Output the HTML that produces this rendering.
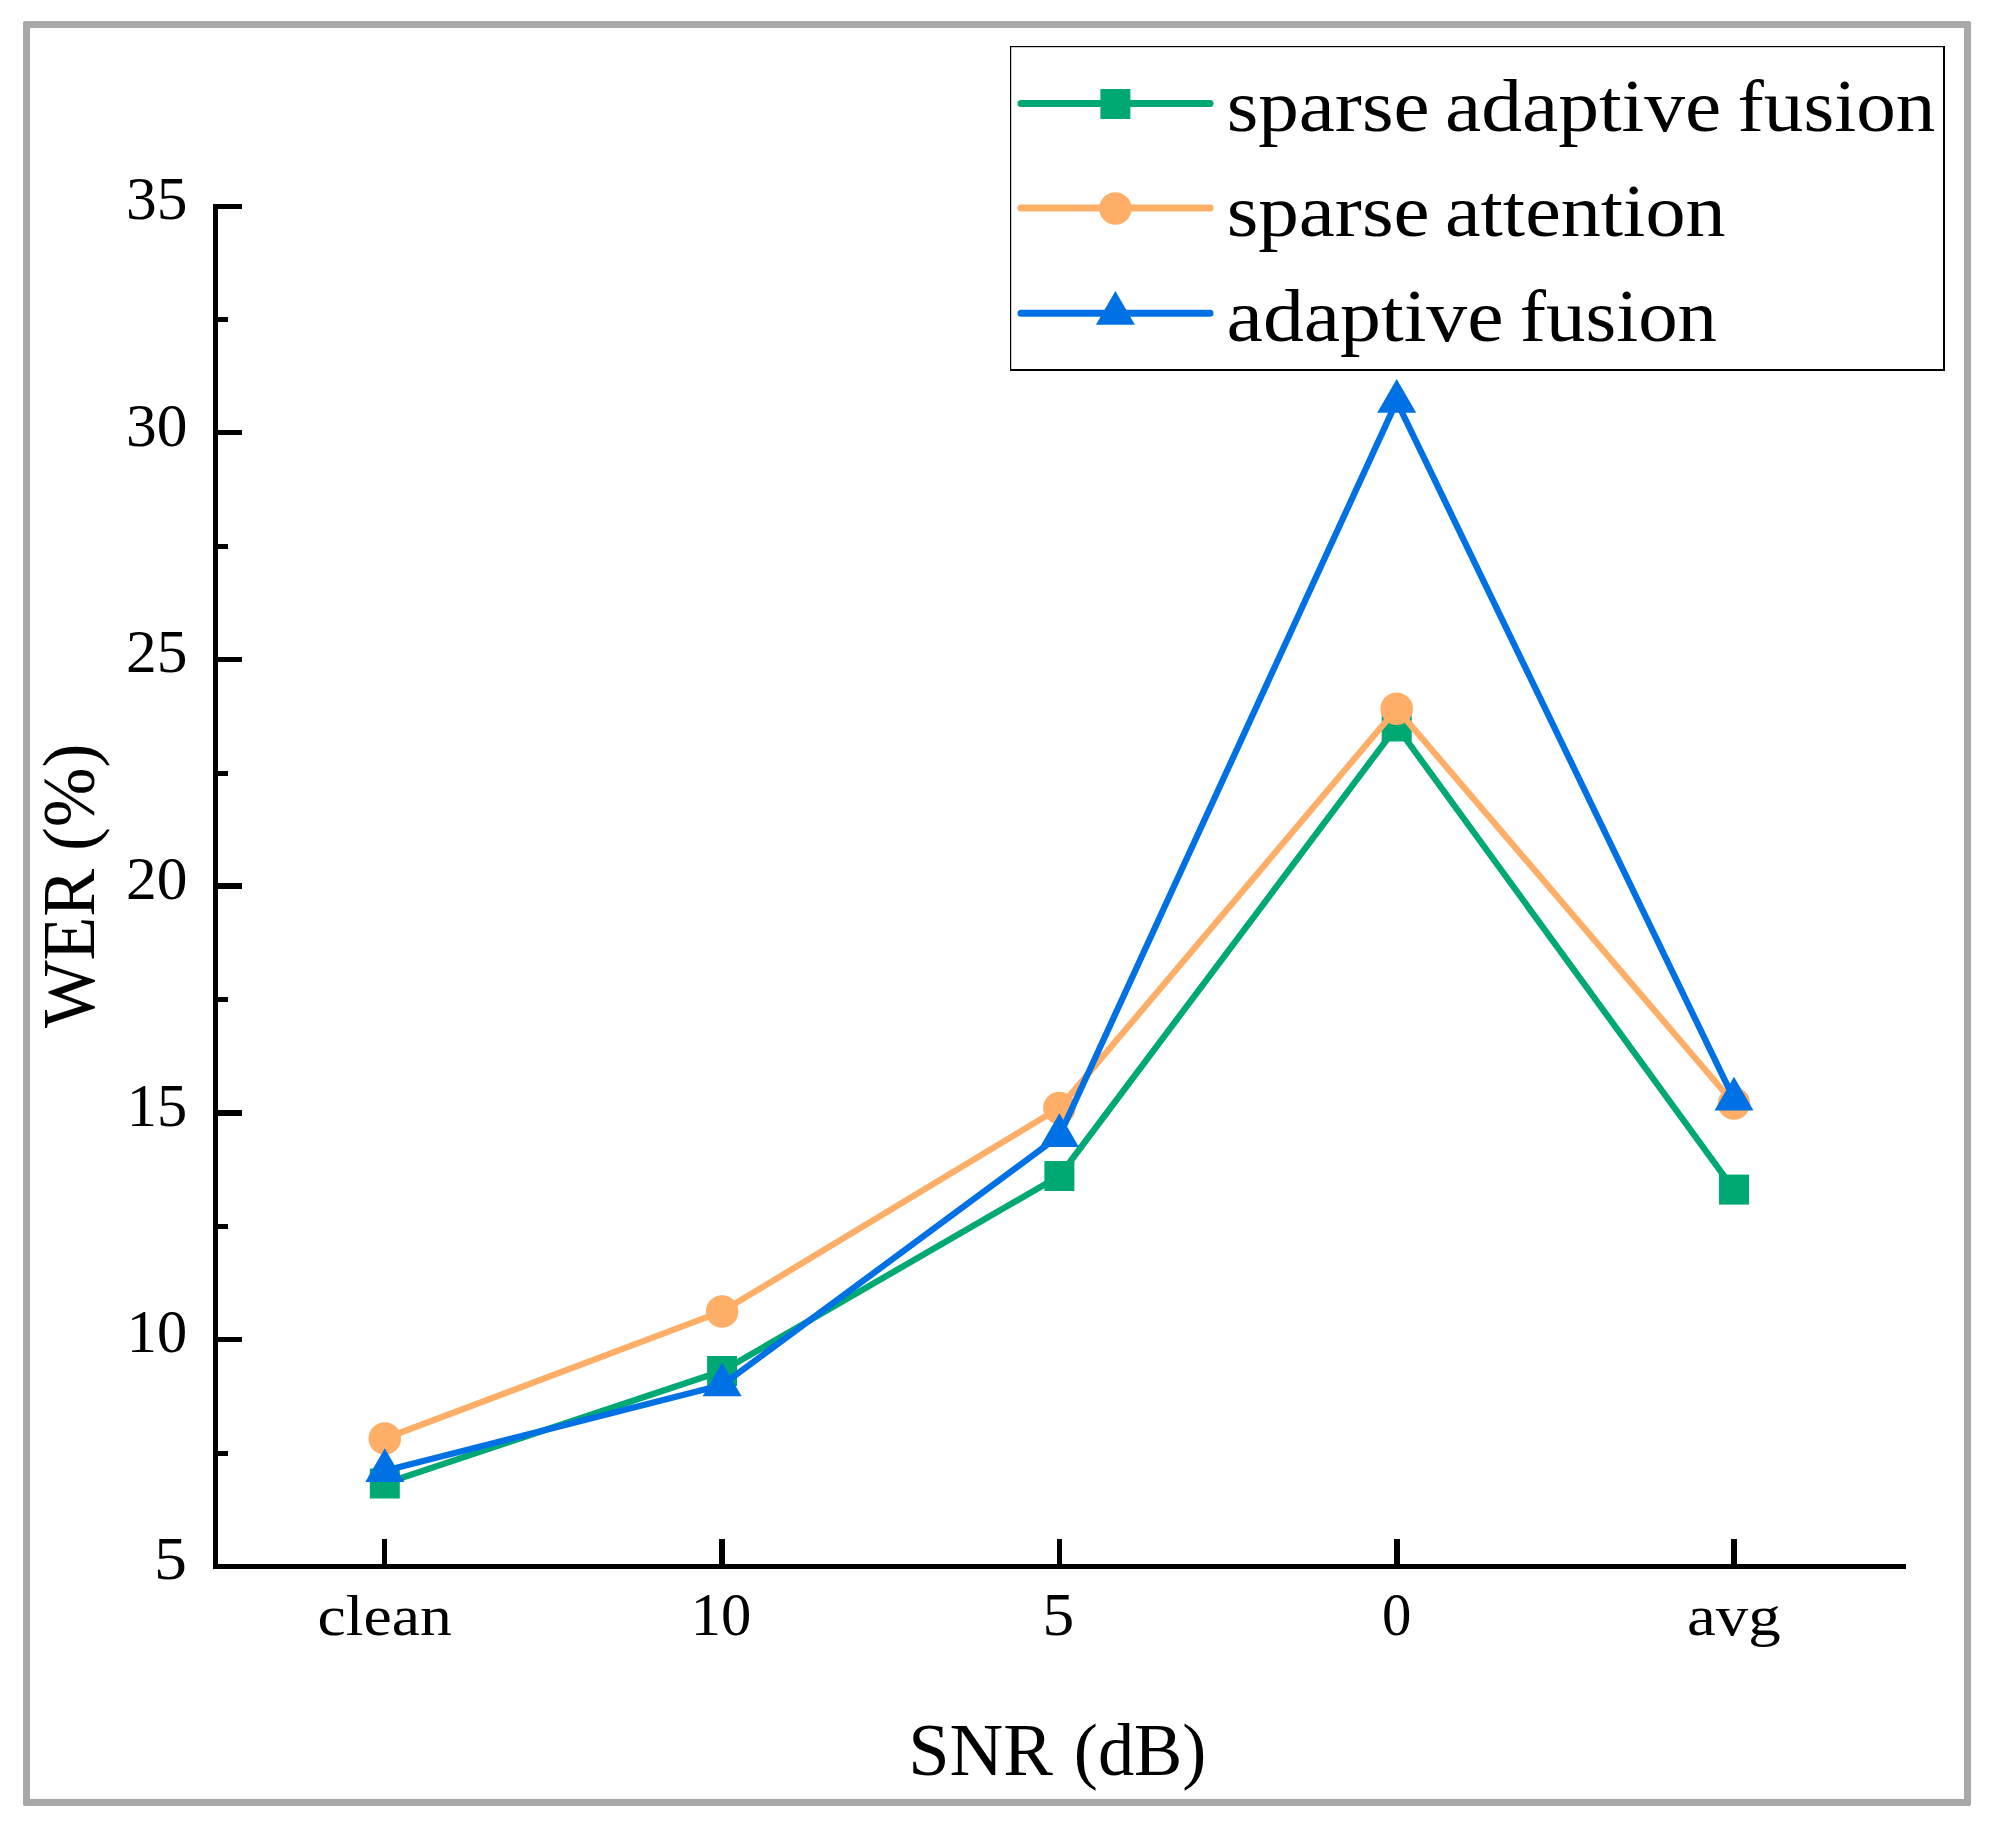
<!DOCTYPE html>
<html lang="en">
<head>
<meta charset="utf-8">
<title>WER vs SNR</title>
<style>
html,body{margin:0;padding:0;background:#fff;}
body{width:1997px;height:1830px;overflow:hidden;}
svg{display:block;}
text{font-family:"Liberation Serif", serif;fill:#000;}
</style>
</head>
<body>
<svg width="1997" height="1830" viewBox="0 0 1997 1830">
<rect x="0" y="0" width="1997" height="1830" fill="#fff"/>
<path fill="#A8A8A8" fill-rule="evenodd" d="M25 21 H1969 A2 2 0 0 1 1971 23 V1804 A2 2 0 0 1 1969 1806 H25 A2 2 0 0 1 23 1804 V23 A2 2 0 0 1 25 21 Z M30 28 V1799 H1964 V28 Z"/>
<g stroke="#000" stroke-width="5" fill="none" stroke-linecap="butt">
<path d="M215.5 204 V1569"/>
<path d="M213 1566.5 H1906"/>
</g>
<g fill="#000">
<rect x="217" y="204" width="25" height="5"/>
<rect x="217" y="430" width="25" height="5"/>
<rect x="217" y="657" width="25" height="5"/>
<rect x="217" y="883" width="25" height="6"/>
<rect x="217" y="1110" width="25" height="6"/>
<rect x="217" y="1337" width="25" height="5"/>
<rect x="217" y="1451" width="11" height="5"/>
<rect x="217" y="1224" width="11" height="5"/>
<rect x="217" y="997" width="11" height="5"/>
<rect x="217" y="771" width="11" height="5"/>
<rect x="217" y="544" width="11" height="5"/>
<rect x="217" y="317" width="11" height="5"/>
<rect x="382" y="1539" width="5" height="26"/>
<rect x="719" y="1539" width="6" height="26"/>
<rect x="1057" y="1539" width="5" height="26"/>
<rect x="1394" y="1539" width="6" height="26"/>
<rect x="1731" y="1539" width="6" height="26"/>
</g>
<polyline points="384.8,1483.5 722.1,1371.0 1059.4,1176.0 1396.7,726.5 1734.0,1189.6" fill="none" stroke="#00A873" stroke-width="6.3" stroke-linejoin="round" stroke-linecap="round"/>
<rect x="369.8" y="1468.5" width="30" height="30" fill="#00A873"/>
<rect x="707.1" y="1356.0" width="30" height="30" fill="#00A873"/>
<rect x="1044.4" y="1161.0" width="30" height="30" fill="#00A873"/>
<rect x="1381.7" y="711.5" width="30" height="30" fill="#00A873"/>
<rect x="1719.0" y="1174.6" width="30" height="30" fill="#00A873"/>
<polyline points="384.8,1438.5 722.1,1311.4 1059.4,1107.9 1396.7,708.7 1734.0,1103.5" fill="none" stroke="#FFAE68" stroke-width="6.3" stroke-linejoin="round" stroke-linecap="round"/>
<circle cx="384.8" cy="1438.5" r="16.25" fill="#FFAE68"/>
<circle cx="722.1" cy="1311.4" r="16.25" fill="#FFAE68"/>
<circle cx="1059.4" cy="1107.9" r="16.25" fill="#FFAE68"/>
<circle cx="1396.7" cy="708.7" r="16.25" fill="#FFAE68"/>
<circle cx="1734.0" cy="1103.5" r="16.25" fill="#FFAE68"/>
<polyline points="384.8,1470.8 722.1,1385.0 1059.4,1135.8 1396.7,401.4 1734.0,1099.2" fill="none" stroke="#0071E4" stroke-width="6.3" stroke-linejoin="round" stroke-linecap="round"/>
<polygon points="384.8,1448.3 404.3,1482.1 365.3,1482.1" fill="#0071E4"/>
<polygon points="722.1,1362.5 741.6,1396.3 702.6,1396.3" fill="#0071E4"/>
<polygon points="1059.4,1113.3 1078.9,1147.1 1039.9,1147.1" fill="#0071E4"/>
<polygon points="1396.7,378.9 1416.2,412.7 1377.2,412.7" fill="#0071E4"/>
<polygon points="1734.0,1076.7 1753.5,1110.5 1714.5,1110.5" fill="#0071E4"/>
<rect x="1010" y="46" width="935" height="325" fill="#fff"/>
<g fill="#000"><rect x="1010" y="46" width="935" height="1.2"/><rect x="1010" y="46" width="1.2" height="325"/><rect x="1943" y="46" width="2" height="325"/><rect x="1010" y="369" width="935" height="2"/></g>
<path d="M1021 103.5 H1210" stroke="#00A873" stroke-width="7" stroke-linecap="round" fill="none"/>
<rect x="1100.4" y="89.0" width="30" height="30" fill="#00A873"/>
<path d="M1021 208.0 H1210" stroke="#FFAE68" stroke-width="7" stroke-linecap="round" fill="none"/>
<circle cx="1115.4" cy="208.5" r="16.25" fill="#FFAE68"/>
<path d="M1021 313.2 H1210" stroke="#0071E4" stroke-width="7" stroke-linecap="round" fill="none"/>
<polygon points="1115.4,291.0 1134.9,324.8 1095.9,324.8" fill="#0071E4"/>
<text transform="translate(153.94 1579.10) scale(1.0640 1)" font-size="62">5</text>
<text transform="translate(126.83 1352.43) scale(0.9745 1)" font-size="62">10</text>
<text transform="translate(126.83 1125.77) scale(0.9745 1)" font-size="62">15</text>
<text transform="translate(125.93 899.10) scale(0.9912 1)" font-size="62">20</text>
<text transform="translate(125.93 672.43) scale(0.9912 1)" font-size="62">25</text>
<text transform="translate(125.93 445.77) scale(0.9912 1)" font-size="62">30</text>
<text transform="translate(125.93 219.10) scale(0.9912 1)" font-size="62">35</text>
<text transform="translate(317.60 1634.50) scale(1.0983 1)" font-size="58">clean</text>
<text transform="translate(690.71 1635.30) scale(0.9782 1)" font-size="62">10</text>
<text transform="translate(1042.50 1635.30) scale(1.0240 1)" font-size="62">5</text>
<text transform="translate(1381.90 1635.30) scale(0.9481 1)" font-size="62">0</text>
<text transform="translate(1687.06 1634.90) scale(1.1185 1)" font-size="58">avg</text>
<text y="130.7" font-size="73"><tspan x="1226.66" textLength="202.85" lengthAdjust="spacingAndGlyphs">sparse</tspan> <tspan x="1444.95" textLength="276.30" lengthAdjust="spacingAndGlyphs">adaptive</tspan> <tspan x="1737.53" textLength="197.69" lengthAdjust="spacingAndGlyphs">fusion</tspan></text>
<text y="235.8" font-size="73"><tspan x="1226.66" textLength="202.85" lengthAdjust="spacingAndGlyphs">sparse</tspan> <tspan x="1445.00" textLength="280.57" lengthAdjust="spacingAndGlyphs">attention</tspan></text>
<text y="340.5" font-size="73"><tspan x="1226.64" textLength="276.91" lengthAdjust="spacingAndGlyphs">adaptive</tspan> <tspan x="1519.84" textLength="197.18" lengthAdjust="spacingAndGlyphs">fusion</tspan></text>
<text y="1775.3" font-size="75"><tspan x="908.25" textLength="144.56" lengthAdjust="spacingAndGlyphs">SNR</tspan> <tspan x="1073.81" textLength="132.66" lengthAdjust="spacingAndGlyphs">(dB)</tspan></text>
<text transform="translate(93.50 1028.00) rotate(-90) scale(0.9548 1)" font-size="75">WER (%)</text>
</svg>
</body>
</html>
